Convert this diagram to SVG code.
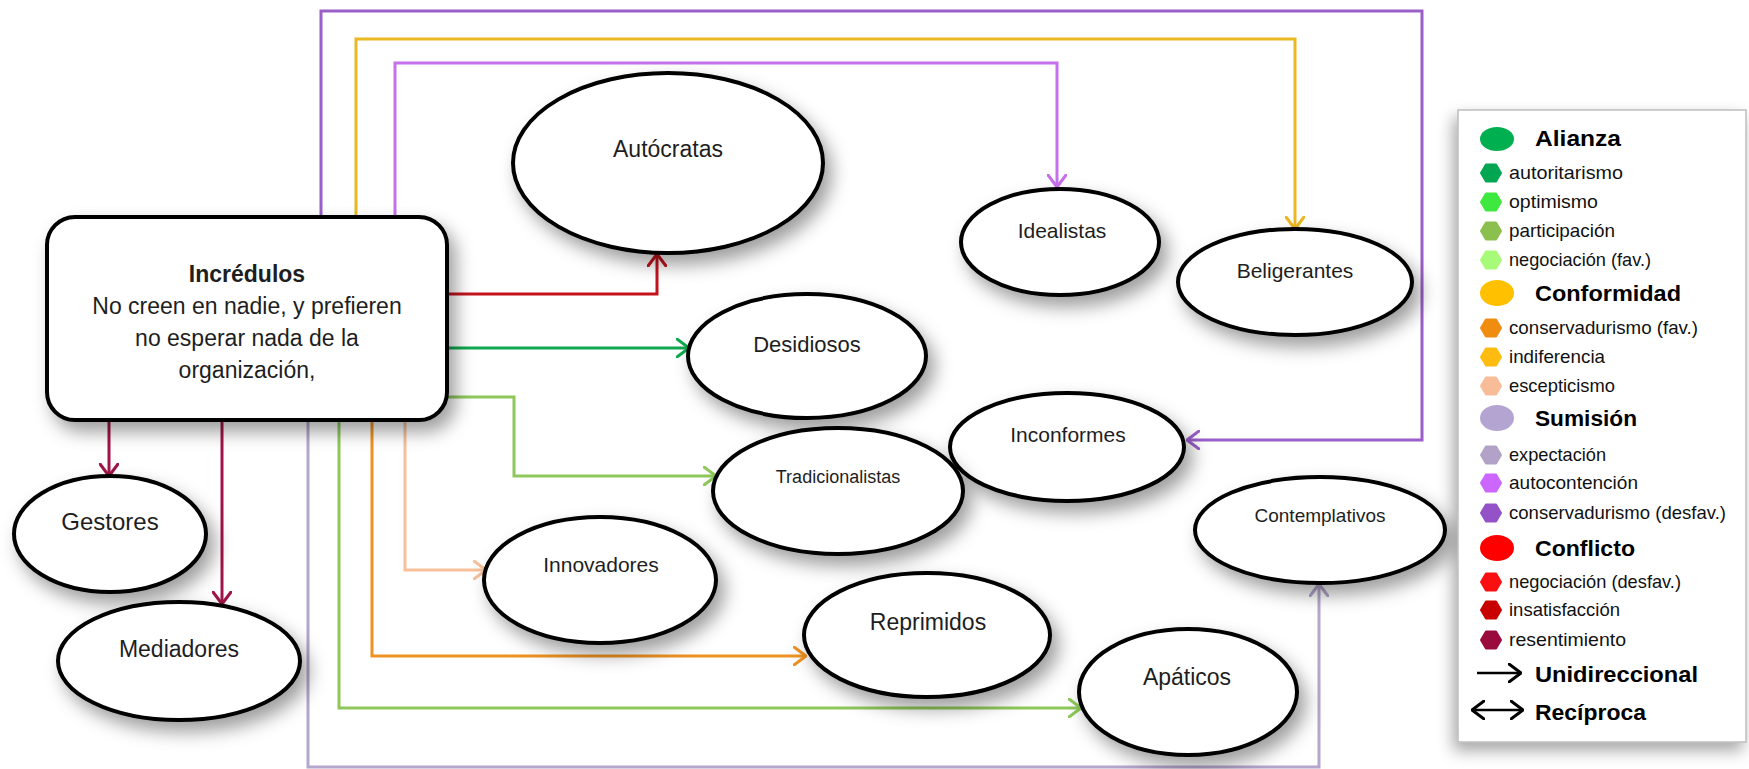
<svg xmlns="http://www.w3.org/2000/svg" width="1749" height="769" viewBox="0 0 1749 769">
  <style>
    .node { fill: #ffffff; stroke: #000000; stroke-width: 4; filter: url(#shadow); }
    .lbl { font-family: "Liberation Sans", Arial, sans-serif; fill: #1e1e1e; text-anchor: middle; }
    .wire { fill: none; stroke-width: 3; stroke-linejoin: miter; }
    .lg { font-family: "Liberation Sans", Arial, sans-serif; fill: #111111; font-size: 18.5px; }
    .lgh { font-family: "Liberation Sans", Arial, sans-serif; fill: #000000; font-size: 22px; font-weight: bold; }
    .head { fill: none; stroke-width: 3; stroke-linecap: round; stroke-linejoin: round; }
  </style>
  <defs>
    <filter id="shadow" x="-30%" y="-30%" width="170%" height="180%">
      <feDropShadow dx="7" dy="10" stdDeviation="9" flood-color="#000000" flood-opacity="0.38"/>
    </filter>
    <filter id="boxshadow" x="-20%" y="-10%" width="140%" height="120%">
      <feDropShadow dx="-4" dy="8" stdDeviation="8" flood-color="#000000" flood-opacity="0.35"/>
    </filter>
    <marker id="m-purple" viewBox="0 0 14 20" refX="13" refY="10" markerWidth="14" markerHeight="20" orient="auto" markerUnits="userSpaceOnUse">
      <path class="head" d="M1,1 L13,10 L1,19" stroke="#9a5fc9"/>
    </marker>
    <marker id="m-yellow" viewBox="0 0 14 20" refX="13" refY="10" markerWidth="14" markerHeight="20" orient="auto" markerUnits="userSpaceOnUse">
      <path class="head" d="M1,1 L13,10 L1,19" stroke="#eab821"/>
    </marker>
    <marker id="m-lilac" viewBox="0 0 14 20" refX="13" refY="10" markerWidth="14" markerHeight="20" orient="auto" markerUnits="userSpaceOnUse">
      <path class="head" d="M1,1 L13,10 L1,19" stroke="#c670ec"/>
    </marker>
    <marker id="m-red" viewBox="0 0 14 20" refX="13" refY="10" markerWidth="14" markerHeight="20" orient="auto" markerUnits="userSpaceOnUse">
      <path class="head" d="M1,1 L13,10 L1,19" stroke="#c4121c"/>
    </marker>
    <marker id="m-green" viewBox="0 0 14 20" refX="13" refY="10" markerWidth="14" markerHeight="20" orient="auto" markerUnits="userSpaceOnUse">
      <path class="head" d="M1,1 L13,10 L1,19" stroke="#10a850"/>
    </marker>
    <marker id="m-olive" viewBox="0 0 14 20" refX="13" refY="10" markerWidth="14" markerHeight="20" orient="auto" markerUnits="userSpaceOnUse">
      <path class="head" d="M1,1 L13,10 L1,19" stroke="#8fc85a"/>
    </marker>
    <marker id="m-crimson" viewBox="0 0 14 20" refX="13" refY="10" markerWidth="14" markerHeight="20" orient="auto" markerUnits="userSpaceOnUse">
      <path class="head" d="M1,1 L13,10 L1,19" stroke="#a01447"/>
    </marker>
    <marker id="m-lavender" viewBox="0 0 14 20" refX="13" refY="10" markerWidth="14" markerHeight="20" orient="auto" markerUnits="userSpaceOnUse">
      <path class="head" d="M1,1 L13,10 L1,19" stroke="#b4a6cc"/>
    </marker>
    <marker id="m-orange" viewBox="0 0 14 20" refX="13" refY="10" markerWidth="14" markerHeight="20" orient="auto" markerUnits="userSpaceOnUse">
      <path class="head" d="M1,1 L13,10 L1,19" stroke="#ee9222"/>
    </marker>
    <marker id="m-peach" viewBox="0 0 14 20" refX="13" refY="10" markerWidth="14" markerHeight="20" orient="auto" markerUnits="userSpaceOnUse">
      <path class="head" d="M1,1 L13,10 L1,19" stroke="#f5c09a"/>
    </marker>
    <marker id="m-black" viewBox="0 0 14 20" refX="13" refY="10" markerWidth="14" markerHeight="20" orient="auto" markerUnits="userSpaceOnUse">
      <path class="head" d="M1,1 L13,10 L1,19" stroke="#000000" stroke-width="2.5"/>
    </marker>
    <marker id="m-black-start" viewBox="0 0 14 20" refX="1" refY="10" markerWidth="14" markerHeight="20" orient="auto" markerUnits="userSpaceOnUse">
      <path class="head" d="M13,1 L1,10 L13,19" stroke="#000000" stroke-width="2.5"/>
    </marker>
  </defs>

  <rect x="0" y="0" width="1749" height="769" fill="#ffffff"/>

  <!-- connectors -->
  <g id="connectors">
    <path class="wire" stroke="#9a5fc9" d="M321,217 V11 H1422 V440 H1187" marker-end="url(#m-purple)"/>
    <path class="wire" stroke="#eab821" d="M356,217 V39 H1295 V229" marker-end="url(#m-yellow)"/>
    <path class="wire" stroke="#c670ec" d="M395,217 V63 H1057 V187" marker-end="url(#m-lilac)"/>
    <path class="wire" stroke="#c4121c" d="M447,294 H657 V254" marker-end="url(#m-red)"/>
    <path class="wire" stroke="#10a850" d="M447,348 H689" marker-end="url(#m-green)"/>
    <path class="wire" stroke="#8fc85a" d="M447,397 H514 V476 H716" marker-end="url(#m-olive)"/>
    <path class="wire" stroke="#a01447" d="M109,421 V476" marker-end="url(#m-crimson)"/>
    <path class="wire" stroke="#a01447" d="M222,421 V604" marker-end="url(#m-crimson)"/>
    <path class="wire" stroke="#b4a6cc" d="M308,421 V767 H1319 V584" marker-end="url(#m-lavender)"/>
    <path class="wire" stroke="#8fc85a" d="M339,421 V708 H1081" marker-end="url(#m-olive)"/>
    <path class="wire" stroke="#ee9222" d="M372,421 V656 H806" marker-end="url(#m-orange)"/>
    <path class="wire" stroke="#f5c09a" d="M405,421 V570 H486" marker-end="url(#m-peach)"/>
  </g>

  <!-- central node -->
  <g id="incredulos">
    <rect class="node" x="47" y="217" width="400" height="203" rx="28" ry="28"/>
    <text class="lbl" x="247" y="282" font-size="23" font-weight="bold" fill="#000">Incrédulos</text>
    <text class="lbl" x="247" y="314" font-size="23">No creen en nadie, y prefieren</text>
    <text class="lbl" x="247" y="346" font-size="23">no esperar nada de la</text>
    <text class="lbl" x="247" y="378" font-size="23">organización,</text>
  </g>

  <g id="autocratas">
    <ellipse class="node" cx="668" cy="163" rx="155" ry="90"/>
    <text class="lbl" x="668" y="157" font-size="23">Autócratas</text>
  </g>
  <g id="desidiosos">
    <ellipse class="node" cx="807" cy="356" rx="119" ry="62"/>
    <text class="lbl" x="807" y="352" font-size="22">Desidiosos</text>
  </g>
  <g id="idealistas">
    <ellipse class="node" cx="1060" cy="242" rx="99" ry="53"/>
    <text class="lbl" x="1062" y="238" font-size="21">Idealistas</text>
  </g>
  <g id="beligerantes">
    <ellipse class="node" cx="1295" cy="282" rx="117" ry="53"/>
    <text class="lbl" x="1295" y="278" font-size="21">Beligerantes</text>
  </g>
  <g id="inconformes">
    <ellipse class="node" cx="1067" cy="447" rx="117" ry="54"/>
    <text class="lbl" x="1068" y="442" font-size="21">Inconformes</text>
  </g>
  <g id="tradicionalistas">
    <ellipse class="node" cx="838" cy="491" rx="125" ry="63"/>
    <text class="lbl" x="838" y="483" font-size="18">Tradicionalistas</text>
  </g>
  <g id="contemplativos">
    <ellipse class="node" cx="1320" cy="530" rx="125" ry="53"/>
    <text class="lbl" x="1320" y="522" font-size="19">Contemplativos</text>
  </g>
  <g id="innovadores">
    <ellipse class="node" cx="600" cy="580" rx="116" ry="63"/>
    <text class="lbl" x="601" y="572" font-size="21">Innovadores</text>
  </g>
  <g id="reprimidos">
    <ellipse class="node" cx="927" cy="635" rx="123" ry="62"/>
    <text class="lbl" x="928" y="630" font-size="23">Reprimidos</text>
  </g>
  <g id="apaticos">
    <ellipse class="node" cx="1188" cy="692" rx="109" ry="63"/>
    <text class="lbl" x="1187" y="685" font-size="23">Apáticos</text>
  </g>
  <g id="gestores">
    <ellipse class="node" cx="110" cy="534" rx="96" ry="58"/>
    <text class="lbl" x="110" y="530" font-size="24">Gestores</text>
  </g>
  <g id="mediadores">
    <ellipse class="node" cx="179" cy="661" rx="121" ry="59"/>
    <text class="lbl" x="179" y="657" font-size="23">Mediadores</text>
  </g>

  <!-- legend -->
  <g id="legend">
    <rect x="1458" y="110" width="288" height="632" fill="#ffffff" stroke="#bdbdbd" stroke-width="1.5" filter="url(#boxshadow)"/>

    <ellipse cx="1497" cy="139" rx="17" ry="12" fill="#00b050"/>
    <text class="lgh" x="1535" y="146" textLength="86" lengthAdjust="spacingAndGlyphs">Alianza</text>
    <polygon points="1481,173 1486,164.5 1496,164.5 1501,173 1496,181.5 1486,181.5" fill="#00a651" stroke="#00a651" stroke-width="2" stroke-linejoin="round"/>
    <text class="lg" x="1509" y="179" textLength="114" lengthAdjust="spacingAndGlyphs">autoritarismo</text>
    <polygon points="1481,202 1486,193.5 1496,193.5 1501,202 1496,210.5 1486,210.5" fill="#3ee83e" stroke="#3ee83e" stroke-width="2" stroke-linejoin="round"/>
    <text class="lg" x="1509" y="208" textLength="89" lengthAdjust="spacingAndGlyphs">optimismo</text>
    <polygon points="1481,231 1486,222.5 1496,222.5 1501,231 1496,239.5 1486,239.5" fill="#8cc04e" stroke="#8cc04e" stroke-width="2" stroke-linejoin="round"/>
    <text class="lg" x="1509" y="237" textLength="106" lengthAdjust="spacingAndGlyphs">participación</text>
    <polygon points="1481,260 1486,251.5 1496,251.5 1501,260 1496,268.5 1486,268.5" fill="#a8fb78" stroke="#a8fb78" stroke-width="2" stroke-linejoin="round"/>
    <text class="lg" x="1509" y="266" textLength="142" lengthAdjust="spacingAndGlyphs">negociación (fav.)</text>

    <ellipse cx="1497" cy="293" rx="17" ry="13" fill="#ffc000"/>
    <text class="lgh" x="1535" y="301" textLength="146" lengthAdjust="spacingAndGlyphs">Conformidad</text>
    <polygon points="1481,328 1486,319.5 1496,319.5 1501,328 1496,336.5 1486,336.5" fill="#f08c10" stroke="#f08c10" stroke-width="2" stroke-linejoin="round"/>
    <text class="lg" x="1509" y="334" textLength="189" lengthAdjust="spacingAndGlyphs">conservadurismo (fav.)</text>
    <polygon points="1481,357 1486,348.5 1496,348.5 1501,357 1496,365.5 1486,365.5" fill="#ffbc10" stroke="#ffbc10" stroke-width="2" stroke-linejoin="round"/>
    <text class="lg" x="1509" y="363" textLength="96" lengthAdjust="spacingAndGlyphs">indiferencia</text>
    <polygon points="1481,386 1486,377.5 1496,377.5 1501,386 1496,394.5 1486,394.5" fill="#f8bc98" stroke="#f8bc98" stroke-width="2" stroke-linejoin="round"/>
    <text class="lg" x="1509" y="392" textLength="106" lengthAdjust="spacingAndGlyphs">escepticismo</text>

    <ellipse cx="1497" cy="418" rx="17" ry="13" fill="#b3a4d2"/>
    <text class="lgh" x="1535" y="426" textLength="102" lengthAdjust="spacingAndGlyphs">Sumisión</text>
    <polygon points="1481,455 1486,446.5 1496,446.5 1501,455 1496,463.5 1486,463.5" fill="#b2a2c8" stroke="#b2a2c8" stroke-width="2" stroke-linejoin="round"/>
    <text class="lg" x="1509" y="461" textLength="97" lengthAdjust="spacingAndGlyphs">expectación</text>
    <polygon points="1481,483 1486,474.5 1496,474.5 1501,483 1496,491.5 1486,491.5" fill="#cc66ff" stroke="#cc66ff" stroke-width="2" stroke-linejoin="round"/>
    <text class="lg" x="1509" y="489" textLength="129" lengthAdjust="spacingAndGlyphs">autocontención</text>
    <polygon points="1481,513 1486,504.5 1496,504.5 1501,513 1496,521.5 1486,521.5" fill="#9452c8" stroke="#9452c8" stroke-width="2" stroke-linejoin="round"/>
    <text class="lg" x="1509" y="519" textLength="217" lengthAdjust="spacingAndGlyphs">conservadurismo (desfav.)</text>

    <ellipse cx="1497" cy="548" rx="17" ry="13" fill="#ff0000"/>
    <text class="lgh" x="1535" y="556" textLength="100" lengthAdjust="spacingAndGlyphs">Conflicto</text>
    <polygon points="1481,582 1486,573.5 1496,573.5 1501,582 1496,590.5 1486,590.5" fill="#fa1010" stroke="#fa1010" stroke-width="2" stroke-linejoin="round"/>
    <text class="lg" x="1509" y="588" textLength="172" lengthAdjust="spacingAndGlyphs">negociación (desfav.)</text>
    <polygon points="1481,610 1486,601.5 1496,601.5 1501,610 1496,618.5 1486,618.5" fill="#c80000" stroke="#c80000" stroke-width="2" stroke-linejoin="round"/>
    <text class="lg" x="1509" y="616" textLength="111" lengthAdjust="spacingAndGlyphs">insatisfacción</text>
    <polygon points="1481,640 1486,631.5 1496,631.5 1501,640 1496,648.5 1486,648.5" fill="#9a0a3c" stroke="#9a0a3c" stroke-width="2" stroke-linejoin="round"/>
    <text class="lg" x="1509" y="646" textLength="117" lengthAdjust="spacingAndGlyphs">resentimiento</text>

    <path d="M1477,673 H1521" stroke="#000" stroke-width="2.5" fill="none" marker-end="url(#m-black)"/>
    <text class="lgh" x="1535" y="682" font-size="24" textLength="163" lengthAdjust="spacingAndGlyphs">Unidireccional</text>
    <path d="M1472,710 H1523" stroke="#000" stroke-width="2.5" fill="none" marker-start="url(#m-black-start)" marker-end="url(#m-black)"/>
    <text class="lgh" x="1535" y="720" font-size="24" textLength="111" lengthAdjust="spacingAndGlyphs">Recíproca</text>
  </g>
</svg>
